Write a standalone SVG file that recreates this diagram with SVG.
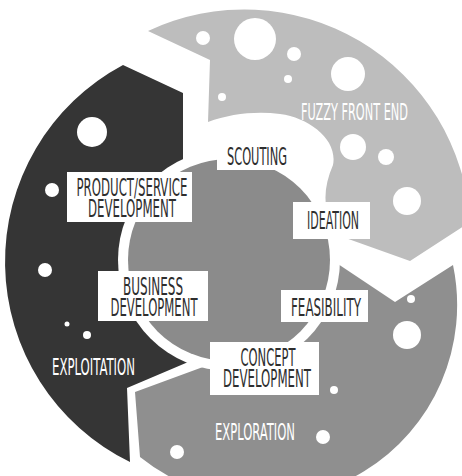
<svg xmlns="http://www.w3.org/2000/svg" width="462" height="476" viewBox="0 0 462 476">
<style>
.box{fill:#fff}
.lbl{font-family:"Liberation Sans Narrow","DejaVu Sans Condensed","Liberation Sans",sans-serif;font-size:24px;fill:#2e2e2e;text-anchor:middle}
.wl{font-family:"Liberation Sans Narrow","DejaVu Sans Condensed","Liberation Sans",sans-serif;font-size:23px;fill:#fff;text-anchor:middle}
.dot{fill:#fff}
</style>
<rect width="462" height="476" fill="#fff"/>
<g id="fuzzy-front-end">
<path d="M148,31 A226,226 0 0 1 470,222 L410,261 L340,236 C322,215 322,190 333,165 C338,140 310,118 280,114 C255,111 230,114 208,122 L210,60 Z" fill="#bdbdbd"/>
<circle class="dot" cx="203" cy="38" r="7"/>
<circle class="dot" cx="255" cy="39" r="21"/>
<circle class="dot" cx="294" cy="54" r="7"/>
<circle class="dot" cx="288" cy="79" r="4"/>
<circle class="dot" cx="348" cy="74" r="17"/>
<circle class="dot" cx="222" cy="97" r="4"/>
<circle class="dot" cx="353" cy="147" r="13"/>
<circle class="dot" cx="386" cy="157" r="8"/>
<circle class="dot" cx="407" cy="201" r="14"/>
<text class="wl" x="354.5" y="120" textLength="107" lengthAdjust="spacingAndGlyphs">FUZZY FRONT END</text>
</g>
<g id="exploration">
<path d="M453,265 L395,302 L329,258 A100,100 0 0 1 222,360 L135,392 L140,457 A195,195 0 0 0 453,265 Z" fill="#8f8f8f"/>
<circle class="dot" cx="411" cy="299" r="4"/>
<circle class="dot" cx="407" cy="335" r="14"/>
<circle class="dot" cx="334" cy="390" r="4"/>
<circle class="dot" cx="323" cy="437" r="7"/>
<circle class="dot" cx="177" cy="452" r="7"/>
<text class="wl" x="255" y="440" textLength="80" lengthAdjust="spacingAndGlyphs">EXPLORATION</text>
</g>
<g id="exploitation">
<path d="M130,462 L127,388 L200,357 A100,100 0 0 1 183,171 L183,93 L123,65 A223,223 0 0 0 130,462 Z" fill="#353535"/>
<circle class="dot" cx="92" cy="132" r="15"/>
<circle class="dot" cx="52" cy="190" r="7"/>
<circle class="dot" cx="45" cy="270" r="7"/>
<circle class="dot" cx="67" cy="324" r="2.5"/>
<circle class="dot" cx="87" cy="335" r="4"/>
<text class="wl" x="93.5" y="375" textLength="83" lengthAdjust="spacingAndGlyphs">EXPLOITATION</text>
</g>
<g id="core">
<circle cx="229" cy="260" r="111" fill="#fff"/>
<circle cx="229" cy="260" r="101" fill="#8b8b8b"/>
</g>
<g id="scouting">
<rect class="box" x="217" y="138" width="80" height="32"/>
<text class="lbl" x="257" y="165" textLength="60" lengthAdjust="spacingAndGlyphs">SCOUTING</text>
</g>
<g id="ideation">
<rect class="box" x="293" y="202" width="77" height="37"/>
<text class="lbl" x="333" y="229" textLength="52" lengthAdjust="spacingAndGlyphs">IDEATION</text>
</g>
<g id="feasibility">
<rect class="box" x="281" y="290" width="87" height="32"/>
<text class="lbl" x="326" y="316" textLength="70" lengthAdjust="spacingAndGlyphs">FEASIBILITY</text>
</g>
<g id="concept-development">
<rect class="box" x="210" y="342" width="109" height="53"/>
<text class="lbl" x="268" y="366" textLength="55" lengthAdjust="spacingAndGlyphs">CONCEPT</text>
<text class="lbl" x="267" y="387" textLength="88" lengthAdjust="spacingAndGlyphs">DEVELOPMENT</text>
</g>
<g id="business-development">
<rect class="box" x="98" y="271" width="110" height="50"/>
<text class="lbl" x="153" y="295" textLength="60" lengthAdjust="spacingAndGlyphs">BUSINESS</text>
<text class="lbl" x="154" y="316" textLength="87" lengthAdjust="spacingAndGlyphs">DEVELOPMENT</text>
</g>
<g id="product-service-development">
<rect class="box" x="67" y="172" width="125" height="50"/>
<text class="lbl" x="132" y="196" textLength="111" lengthAdjust="spacingAndGlyphs">PRODUCT/SERVICE</text>
<text class="lbl" x="132" y="217" textLength="88" lengthAdjust="spacingAndGlyphs">DEVELOPMENT</text>
</g>
<g id="connectors"/>
</svg>
